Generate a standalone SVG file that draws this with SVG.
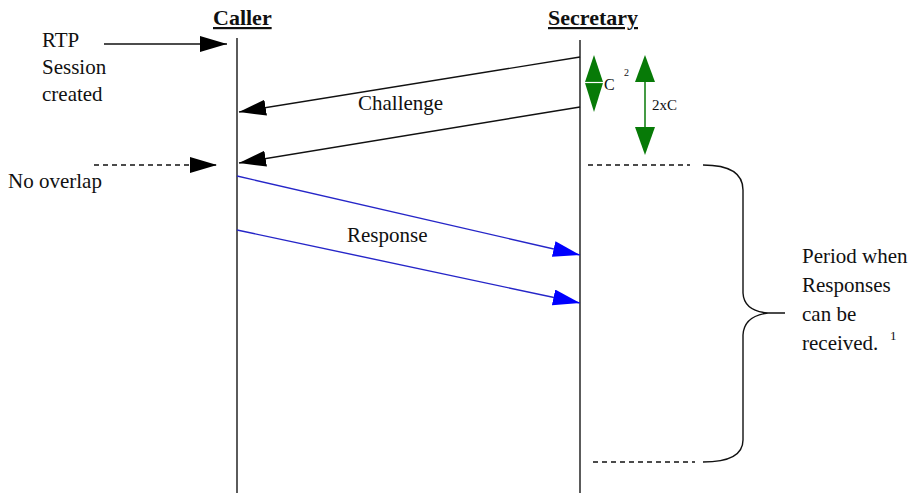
<svg xmlns="http://www.w3.org/2000/svg" width="917" height="493" viewBox="0 0 917 493">
<style>
text{font-family:'Liberation Serif','Tinos','Times New Roman','Noto Serif','DejaVu Serif',serif;font-size:21px;fill:#111}
.hdr{font-weight:bold;font-size:22px;text-decoration:underline}
.life{stroke:#333;stroke-width:1.6;fill:none}
.blk{stroke:#111;stroke-width:1.4;fill:none}
.blue{stroke:#2626c8;stroke-width:1.4;fill:none}
.dash{stroke:#111;stroke-width:1.4;stroke-dasharray:5,4;fill:none}
.grn{fill:#077a07}
</style>
<defs>
<marker id="ab" markerUnits="userSpaceOnUse" markerWidth="28" markerHeight="17" refX="27" refY="8" orient="auto"><path d="M0,0 L27,8 L0,16 z" fill="#000"/></marker>
<marker id="au" markerUnits="userSpaceOnUse" markerWidth="28" markerHeight="17" refX="27" refY="8" orient="auto"><path d="M0,0 L27,8 L0,16 z" fill="#0000ff"/></marker>
</defs>
<rect width="917" height="493" fill="#fff"/>
<g id="caller"><text class="hdr" x="213" y="25">Caller</text><line class="life" x1="237" y1="38" x2="237" y2="493"/></g>
<g id="secretary"><text class="hdr" x="548" y="25">Secretary</text><line class="life" x1="580" y1="40" x2="580" y2="493"/></g>
<g id="rtp-note"><text x="42" y="47">RTP</text><text x="42" y="74">Session</text><text x="42" y="101">created</text></g>
<g id="nooverlap-note"><text x="8" y="188">No overlap</text></g>
<g id="challenge-label"><text x="358" y="110">Challenge</text></g>
<g id="response-label"><text x="347" y="242">Response</text></g>
<g id="c-measure">
<polygon class="grn" points="594,55 585,82 603,82"/>
<polygon class="grn" points="585,83 603,83 594,112"/>
<line x1="583" y1="82.5" x2="604" y2="82.5" stroke="#fff" stroke-width="1.2"/>
<text x="604" y="90" style="font-size:16px">C</text>
<text x="624" y="76" style="font-size:10px">2</text>
</g>
<g id="twoc-measure">
<polygon class="grn" points="645,55 635,82 655,82"/>
<line x1="645" y1="82" x2="645" y2="127" stroke="#077a07" stroke-width="1.5"/>
<polygon class="grn" points="635,127 655,127 645,155"/>
<text x="652" y="110" style="font-size:15px">2xC</text>
</g>
<g id="period-note">
<text x="802" y="263">Period when</text>
<text x="802" y="292">Responses</text>
<text x="802" y="321">can be</text>
<text x="802" y="350">received.</text>
<text x="890" y="340" style="font-size:13px">1</text>
</g>
<g id="connectors">
<line class="blk" x1="104" y1="44" x2="227" y2="44" marker-end="url(#ab)"/>
<line class="dash" x1="94" y1="165" x2="217" y2="165" marker-end="url(#ab)"/>
<line class="blk" x1="580" y1="57" x2="239" y2="112" marker-end="url(#ab)"/>
<line class="blk" x1="580" y1="107" x2="239" y2="163" marker-end="url(#ab)"/>
<line class="blue" x1="237" y1="176" x2="580" y2="255" marker-end="url(#au)"/>
<line class="blue" x1="237" y1="230" x2="580" y2="303" marker-end="url(#au)"/>
<line class="dash" x1="588" y1="165" x2="690" y2="165"/>
<line class="dash" x1="593" y1="462" x2="695" y2="462"/>
<path class="blk" d="M703,165 Q743,165 743,190 L743,293 Q744,311 768,313 L785,313 M768,313 Q744,316 743,335 L743,440 Q743,462 703,462"/>
</g>
</svg>
